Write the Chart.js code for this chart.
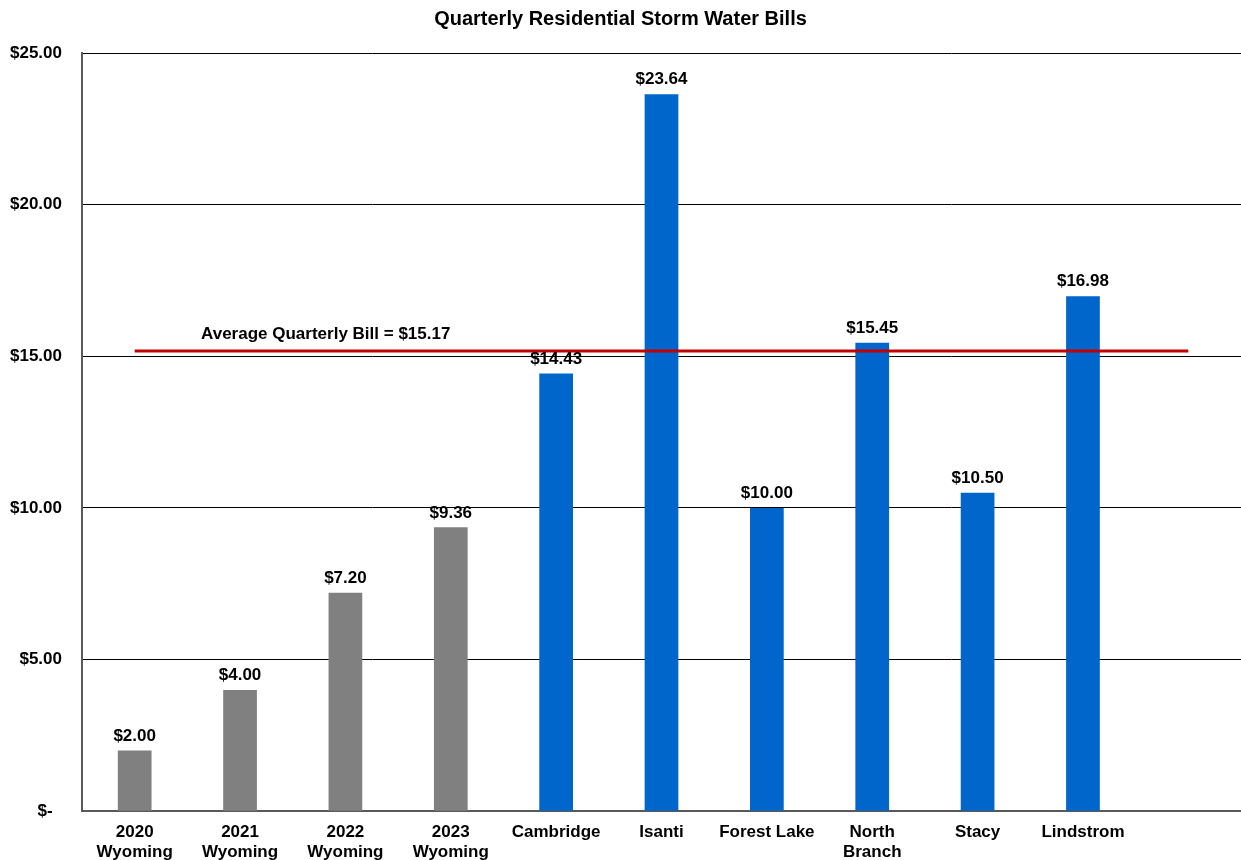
<!DOCTYPE html>
<html>
<head>
<meta charset="utf-8">
<script src="https://cdn.jsdelivr.net/npm/chart.js@4"></script>
<style>
  html, body { margin: 0; padding: 0; background: #fff; }
  #wrap { width: 1241px; height: 860px; }
</style>
</head>
<body>
<div id="wrap"><canvas id="myChart"></canvas></div>
<script>
const categories = [["2020", "Wyoming"], ["2021", "Wyoming"], ["2022", "Wyoming"], ["2023", "Wyoming"],
  "Cambridge", "Isanti", "Forest Lake", ["North", "Branch"], "Stacy", "Lindstrom", ""];
const bills = [2.00, 4.00, 7.20, 9.36, 14.43, 23.64, 10.00, 15.45, 10.50, 16.98, null];
const averageBill = 15.17;
const averageLine = categories.map(() => averageBill);
const wyomingCount = 4;

const barColors = bills.map((v, i) => i < wyomingCount ? "#808080" : "#0066CC");
const fontFam = "'Liberation Sans', Arial, sans-serif";

// draws the $ values over the bars and the average caption
const labelPlugin = {
  id: "labels",
  afterDatasetsDraw(chart) {
    const ctx = chart.ctx;
    ctx.save();
    ctx.font = "bold 17px " + fontFam;
    ctx.fillStyle = "#000";
    ctx.textAlign = "center";
    ctx.textBaseline = "bottom";
    const meta = chart.getDatasetMeta(0);
    meta.data.forEach((bar, i) => {
      if (bills[i] == null) return;
      ctx.fillText("$" + bills[i].toFixed(2), bar.x, bar.y - 6);
    });
    const xs = chart.scales.x, ys = chart.scales.y;
    ctx.textAlign = "left";
    ctx.fillText("Average Quarterly Bill = $" + averageBill.toFixed(2),
      xs.getPixelForValue(0.63), ys.getPixelForValue(averageBill) - 8);
    ctx.restore();
  }
};

new Chart("myChart", {
  type: "bar",
  data: {
    labels: categories,
    datasets: [{
      type: "bar",
      data: bills,
      backgroundColor: barColors,
      barPercentage: 0.32,
      categoryPercentage: 1,
      order: 2
    }, {
      type: "line",
      data: averageLine,
      borderColor: "#C00000",
      borderWidth: 3,
      pointRadius: 0,
      fill: false,
      order: 1
    }]
  },
  options: {
    responsive: true,
    maintainAspectRatio: false,
    animation: false,
    layout: { padding: { top: 7, right: 0, bottom: -14, left: 0 } },
    plugins: {
      legend: { display: false },
      tooltip: { enabled: false },
      title: {
        display: true,
        text: "Quarterly Residential Storm Water Bills",
        color: "#000",
        font: { family: fontFam, size: 20, weight: "bold" },
        padding: { top: 0, bottom: 22 }
      }
    },
    scales: {
      x: {
        grid: { display: false, drawTicks: false },
        border: { color: "#595959", width: 2 },
        ticks: {
          color: "#000",
          font: { family: fontFam, size: 17, weight: "bold" },
          lineHeight: 1.15,
          padding: 11,
          maxRotation: 0,
          autoSkip: false
        }
      },
      y: {
        min: 0,
        max: 25,
        grid: { color: "#000", lineWidth: 1, drawTicks: false },
        border: { color: "#595959", width: 2 },
        afterFit(scale) { scale.width = 82; },
        ticks: {
          stepSize: 5,
          color: "#000",
          padding: 20,
          font: { family: fontFam, size: 17, weight: "bold" },
          callback: v => v === 0 ? "$-  " : "$" + v.toFixed(2)
        }
      }
    }
  },
  plugins: [labelPlugin]
});
</script>
</body>
</html>
